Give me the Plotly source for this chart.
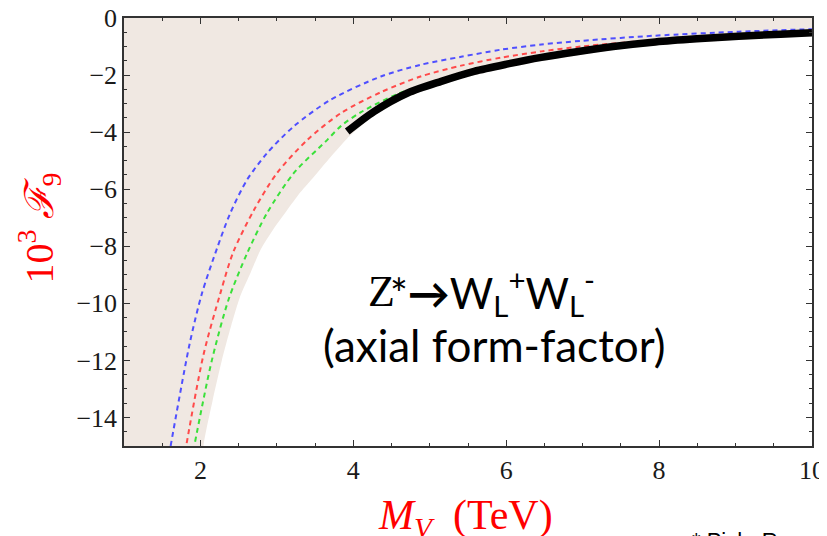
import plotly.graph_objects as go

# ---------------- data ----------------
X_RANGE = [1, 10]
Y_RANGE = [-15, 0]

x_tickvals = [2, 4, 6, 8, 10]
x_ticktext = ["2", "4", "6", "8", "10"]
y_tickvals = [0, -2, -4, -6, -8, -10, -12, -14]
y_ticktext = ["0", "−2", "−4", "−6", "−8", "−10", "−12", "−14"]

blue_x = [1.61, 1.86, 2.02, 2.22, 2.39, 2.61, 2.87, 3.22, 3.70, 4.36, 4.88, 5.41, 5.93, 6.46, 6.98, 7.94, 9.04, 10.0]
blue_y = [-15.0, -11.4, -9.65, -8.05, -6.84, -5.67, -4.74, -3.80, -2.87, -2.05, -1.64, -1.36, -1.11, -0.93, -0.80, -0.62, -0.48, -0.39]

red_x = [1.82, 2.04, 2.26, 2.43, 2.70, 3.00, 3.40, 3.84, 4.36, 4.88, 5.41, 5.93, 6.46, 6.98, 8.07, 10.0]
red_y = [-14.9, -11.8, -9.65, -8.20, -6.73, -5.44, -4.27, -3.33, -2.60, -2.05, -1.67, -1.39, -1.17, -1.00, -0.75, -0.50]

green_x = [1.93, 2.15, 2.37, 2.61, 2.87, 3.22, 3.66, 3.84, 4.10, 4.58, 5.00]
green_y = [-14.85, -11.99, -9.85, -8.25, -6.84, -5.44, -4.27, -3.78, -3.30, -2.66, -2.30]

black_x = [3.92, 4.27, 4.71, 5.15, 5.58, 6.02, 6.46, 6.90, 7.40, 7.95, 8.49, 9.04, 9.59, 10.0]
black_y = [-3.98, -3.28, -2.63, -2.22, -1.87, -1.61, -1.38, -1.19, -1.00, -0.84, -0.73, -0.64, -0.57, -0.52]

# lower edge of the shaded (allowed) region
shade_x = [2.04, 2.16, 2.28, 2.40, 2.52, 2.66, 2.785, 2.96, 3.135, 3.31, 3.485, 3.70, 3.92, 4.27, 4.71, 5.15, 5.58, 6.02, 6.46, 6.90, 7.40, 7.95, 8.49, 9.04, 9.59, 10.0]
shade_y = [-15.0, -13.4, -12.0, -10.8, -9.75, -8.90, -8.13, -7.38, -6.73, -6.10, -5.56, -4.88, -4.22, -3.42, -2.76, -2.35, -2.00, -1.74, -1.51, -1.32, -1.12, -0.96, -0.85, -0.76, -0.68, -0.63]

# ---------------- figure ----------------
fig = go.Figure()

poly_x = [X_RANGE[0] - 1, X_RANGE[1] + 1, X_RANGE[1] + 1] + shade_x[::-1] + [shade_x[0], X_RANGE[0] - 1]
poly_y = [Y_RANGE[1] + 1, Y_RANGE[1] + 1, shade_y[-1]] + shade_y[::-1] + [Y_RANGE[0] - 1, Y_RANGE[0] - 1]
fig.add_trace(go.Scatter(x=poly_x, y=poly_y, fill="toself", fillcolor="#F0E8E2",
                         mode="lines", line=dict(width=0, color="#F0E8E2", shape="spline", smoothing=0.6),
                         hoverinfo="skip", showlegend=False))

for xs, ys, col in [(blue_x, blue_y, "#4F4FFF"), (red_x, red_y, "#FF4A4A"), (green_x, green_y, "#3AE03A")]:
    fig.add_trace(go.Scatter(x=xs, y=ys, mode="lines",
                             line=dict(color=col, width=2, dash="5px,4px", shape="spline", smoothing=0.8),
                             showlegend=False))

fig.add_trace(go.Scatter(x=black_x, y=black_y, mode="lines",
                         line=dict(color="black", width=7.5, shape="spline", smoothing=0.8),
                         showlegend=False))

axis_common = dict(showline=True, linecolor="#333333", linewidth=1.5, mirror="ticks",
                   ticks="inside", ticklen=6, tickwidth=1.3, tickcolor="#333333",
                   showgrid=False, zeroline=False, automargin=False, ticklabeloverflow="allow",
                   tickfont=dict(family="Liberation Serif", size=26, color="#1a1a1a"))

fig.update_xaxes(range=X_RANGE, tickvals=x_tickvals, ticktext=x_ticktext,
                 minor=dict(dtick=0.5, tick0=0, ticks="inside", ticklen=3.5, tickcolor="#333333", tickwidth=1.2),
                 **axis_common)
fig.update_yaxes(range=Y_RANGE, tickvals=y_tickvals, ticktext=y_ticktext,
                 minor=dict(dtick=0.5, tick0=0, ticks="inside", ticklen=3.5, tickcolor="#333333", tickwidth=1.2),
                 **axis_common)

annotations = [
    dict(text="<i>M</i><sub><i>V</i></sub>&nbsp;&nbsp;(TeV)", x=0.497, y=-0.168, xref="paper", yref="paper",
         xanchor="center", yanchor="middle", showarrow=False,
         font=dict(family="Liberation Serif", size=42, color="#FF0000")),
    dict(text="10<sup>3</sup> <i>ℱ</i><sub>9</sub>", x=-0.124, y=0.51, xref="paper", yref="paper",
         xanchor="center", yanchor="middle", showarrow=False, textangle=-90,
         font=dict(family="Liberation Serif", size=40, color="#FF0000")),
    dict(text="Z", x=0.397, y=0.362, xref="paper", yref="paper", xanchor="right", yanchor="middle",
         showarrow=False, font=dict(family="Liberation Serif", size=44, color="black")),
    dict(text="*<b>→</b>W<sub>L</sub><sup>+</sup>W<sub>L</sub><sup>-</sup>",
         x=0.383, y=0.358, xref="paper", yref="paper", xanchor="left", yanchor="middle",
         showarrow=False, font=dict(family="Lato", size=42, color="black")),
    dict(text="(axial form-factor)", x=0.539, y=0.236, xref="paper", yref="paper",
         xanchor="center", yanchor="middle", showarrow=False,
         font=dict(family="Lato", size=44, color="black")),
    dict(text="* Pich, R", x=0.822, y=-0.188, xref="paper", yref="paper",
         xanchor="left", yanchor="top", showarrow=False,
         font=dict(family="Liberation Sans", size=22, color="black")),
]

fig.update_layout(width=819, height=528, margin=dict(l=116, r=15, t=10, b=90),
                  plot_bgcolor="white", paper_bgcolor="white", annotations=annotations,
                  showlegend=False)

fig.write_html("out.html")
